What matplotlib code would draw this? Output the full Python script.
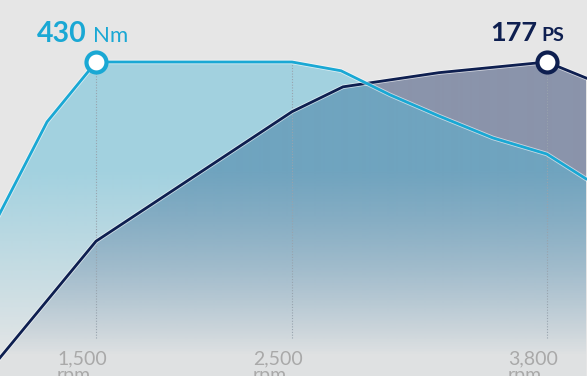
import numpy as np
import matplotlib
matplotlib.use('Agg')
import matplotlib.pyplot as plt
import matplotlib.patheffects as pe
from matplotlib.colors import to_rgb

# torque curve (Nm) and power curve (PS) over engine speed
torque_rpm = [1000, 1250, 1500, 2500, 2750, 3000, 3250, 3525, 3800, 4000]
torque_nm = [218, 348, 430, 430, 418, 385, 356, 326, 304, 270]
power_rpm = [1000, 1500, 2500, 2760, 3250, 3525, 3800, 4000]
power_ps = [9, 76, 149, 163, 171, 174, 177, 168]

peak_torque = (1500, 430)
peak_power = (3800, 177)
tick_rpm = [1500, 2500, 3800]
tick_labels = ['1,500', '2,500', '3,800']

bg = '#e6e6e6'
cyan = '#1aa8d4'
navy = '#0e1f50'

fig = plt.figure(figsize=(5.87, 3.76), dpi=100, facecolor=bg)
ax = fig.add_axes([0, 0, 1, 1])
ax.set_facecolor(bg)
ax2 = ax.twinx()
ax2.set_position([0, 0, 1, 1])
for a in (ax, ax2):
    a.axis('off')


def gradient_fill(x, y, host, color, alpha_top, z):
    poly = host.fill_between(x, 0, y, facecolor='none', edgecolor='none')
    h = 376
    rows = np.arange(h)
    alpha = np.interp(rows, [0, 170, 355, h], [alpha_top, alpha_top, 0.02, 0.02])
    rgba = np.zeros((h, 1, 4))
    rgba[..., :3] = to_rgb(color)
    rgba[:, 0, 3] = alpha
    im = ax.imshow(rgba, extent=[0, 1, 0, 1], transform=ax.transAxes,
                   aspect='auto', origin='upper', interpolation='bilinear', zorder=z)
    im.set_clip_path(poly.get_paths()[0], host.transData)


gradient_fill(power_rpm, power_ps, ax2, '#1f3366', 0.46, 1)
gradient_fill(torque_rpm, torque_nm, ax, '#4fb8d8', 0.45, 2)

# dotted guides at the marked speeds
ax.vlines(tick_rpm, 52, peak_torque[1], colors='#98a3ad', linestyles=(0, (1, 1.5)),
          linewidth=0.8, zorder=3)

halo = [pe.Stroke(linewidth=3.2, foreground='white', alpha=0.6), pe.Normal()]
ax.plot(power_rpm, power_ps, color=navy, lw=2, transform=ax2.transData,
        path_effects=halo, zorder=4, solid_joinstyle='miter')
ax.plot(torque_rpm, torque_nm, color=cyan, lw=2, path_effects=halo, zorder=5,
        solid_joinstyle='miter')

ax.plot(*peak_torque, 'o', ms=14.4, mew=3, mfc='white', mec=cyan, zorder=6)
ax.plot(*peak_power, 'o', ms=14.4, mew=3, mfc='white', mec=navy, zorder=6,
        transform=ax2.transData)

# peak labels
ax.annotate('430', xy=peak_torque, xytext=(-9, 20), textcoords='offset pixels',
            ha='right', va='baseline', fontsize=20.5, fontweight='bold',
            family='Lato', color=cyan)
ax.annotate('Nm', xy=peak_torque, xytext=(-3, 20), textcoords='offset pixels',
            ha='left', va='baseline', fontsize=16, family='Lato', color=cyan)
ax.annotate('177', xy=peak_power, xycoords=ax2.transData, xytext=(-10, 21),
            textcoords='offset pixels', ha='right', va='baseline', fontsize=19.5,
            fontweight='bold', family='Lato', color=navy)
ax.annotate('PS', xy=peak_power, xycoords=ax2.transData, xytext=(-5, 21),
            textcoords='offset pixels', ha='left', va='baseline', fontsize=14,
            fontweight='bold', family='Lato', color=navy)

# rpm labels along the bottom
for r, lab in zip(tick_rpm, tick_labels):
    ax.annotate(lab + '\nrpm', xy=(r, 0), xytext=(-39, -5), textcoords='offset pixels',
                ha='left', va='baseline', fontsize=14, family='Lato',
                color='#a9a9a9', linespacing=0.95, annotation_clip=False)

ax.set_xlim(1010, 4005)
ax.set_ylim(0, peak_torque[1] * 376 / 314)
ax2.set_ylim(0, peak_power[1] * 376 / 314)

fig.savefig('out.png', dpi=100, facecolor=bg)
